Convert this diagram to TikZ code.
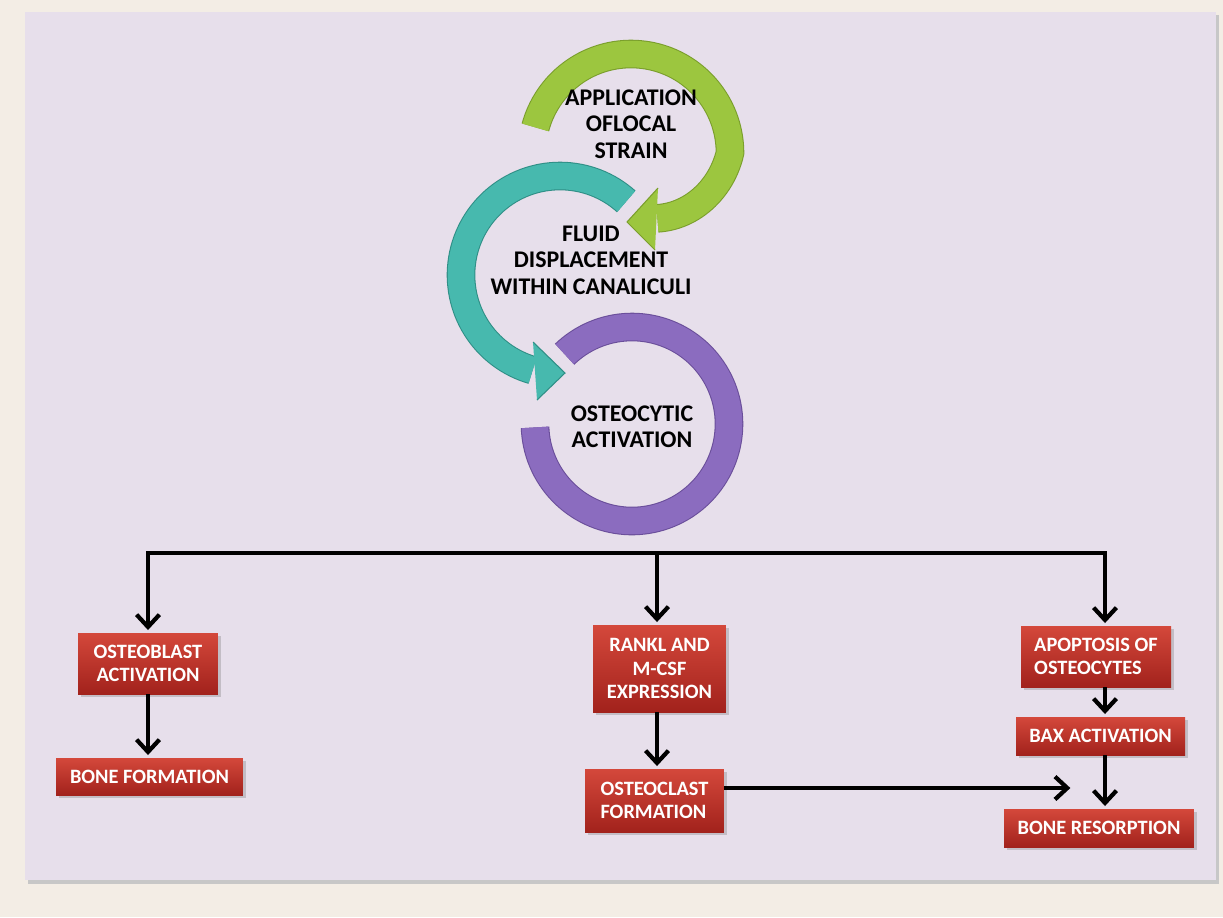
\documentclass[tikz,border=0pt]{standalone}
\usepackage{fontspec}
\setmainfont{Carlito}
\usetikzlibrary{arrows.meta,shadows}
\definecolor{pagebg}{HTML}{F3EDE5}
\definecolor{panelbg}{HTML}{E7DFEB}
\definecolor{greenarc}{HTML}{9CC63F}
\definecolor{greenedge}{HTML}{7A9E2C}
\definecolor{tealarc}{HTML}{47B9AE}
\definecolor{tealedge}{HTML}{2F8F86}
\definecolor{purplearc}{HTML}{8B6CBF}
\definecolor{purpleedge}{HTML}{6A4E9A}
\definecolor{boxtop}{HTML}{D4483B}
\definecolor{boxbottom}{HTML}{A2221C}
\begin{document}
\begin{tikzpicture}[x=0.02cm, y=-0.02cm,
  ring/.style={line width=0.6pt, double distance=0.53cm},
  cyclelabel/.style={align=center, font=\bfseries\fontsize{13.6}{15}\selectfont, text=black},
  redbox/.style={top color=boxtop, bottom color=boxbottom, text=white, align=center, inner sep=2pt,
    font=\bfseries\fontsize{11.6}{13.2}\selectfont,
    drop shadow={opacity=0.35, shadow xshift=1.5pt, shadow yshift=-1.5pt}},
  flow/.style={line width=2.4pt, -{Straight Barb[length=7pt, width=13pt]}, shorten >=1.5pt}]
\useasboundingbox (0,0) rectangle (1223,917);
\fill[pagebg] (0,0) rectangle (1223,917);
\fill[black!22] (28,15) rectangle (1219,884);
\fill[panelbg] (25,12) rectangle (1216,880);

\draw[ring, draw=purpleedge, double=purplearc] plot[domain=-178:134, samples=120] ({632+97*cos(\x)}, {424-97*sin(\x)});
\draw[ring, draw=tealedge, double=tealarc] plot[domain=48:254, samples=80] ({560+99*cos(\x)}, {275-99*sin(\x)});
\fill[tealarc] (565,373) -- (533,342) -- (537,400) -- cycle;
\draw[tealedge, line width=0.6pt] (533,342) -- (565,373) -- (537,400);
\draw[ring, draw=greenedge, double=greenarc] plot[domain=-68:165, samples=100] ({631+(99+0.42*min(0,\x))*cos(\x)}, {153-(99+0.42*min(0,\x))*sin(\x)});
\fill[greenarc] (627,222) -- (658,188) -- (655,250) -- cycle;
\draw[greenedge, line width=0.6pt] (658,188) -- (627,222) -- (655,250);

\node[cyclelabel] (strain) at (631,124) {APPLICATION\\OFLOCAL\\STRAIN};
\node[cyclelabel] (fluid) at (591,260) {FLUID\\DISPLACEMENT\\WITHIN CANALICULI};
\node[cyclelabel] (osteo) at (632,427) {OSTEOCYTIC\\ACTIVATION};

\node[redbox, minimum width=2.8cm, minimum height=1.22cm] (oblast) at (148,663.5) {OSTEOBLAST\\ACTIVATION};
\node[redbox, minimum width=3.74cm, minimum height=0.74cm] (bform) at (149.5,776.5) {BONE FORMATION};
\node[redbox, minimum width=2.66cm, minimum height=1.74cm] (rankl) at (659.5,668.5) {RANKL AND\\M-CSF\\EXPRESSION};
\node[redbox, minimum width=2.78cm, minimum height=1.26cm, align=left] (oclast) at (654.5,800.5) {OSTEOCLAST\\FORMATION};
\node[redbox, minimum width=3.0cm, minimum height=1.22cm, align=left] (apop) at (1096,656.5) {APOPTOSIS OF\\OSTEOCYTES};
\node[redbox, minimum width=3.38cm, minimum height=0.76cm] (bax) at (1100.5,736) {BAX ACTIVATION};
\node[redbox, minimum width=3.8cm, minimum height=0.76cm] (bresorp) at (1099,828) {BONE RESORPTION};

\coordinate (busM) at (657,553);
\coordinate (busR) at (1105,553);
\coordinate (meet) at (1073,788);

\draw[flow] (busM) -| (oblast.north);
\draw[flow] (busM) -| (busR |- apop.north);
\draw[flow] (busM) -- (busM |- rankl.north);
\draw[flow] (oblast.south) -- (oblast.south |- bform.north);
\draw[flow] (rankl.south -| busM) -- (oclast.north -| busM);
\draw[flow] (apop.south -| busR) -- (bax.north -| busR);
\draw[flow] (bax.south -| busR) -- (bresorp.north -| busR);
\draw[flow] (oclast.east |- meet) -- (meet);
\end{tikzpicture}
\end{document}
